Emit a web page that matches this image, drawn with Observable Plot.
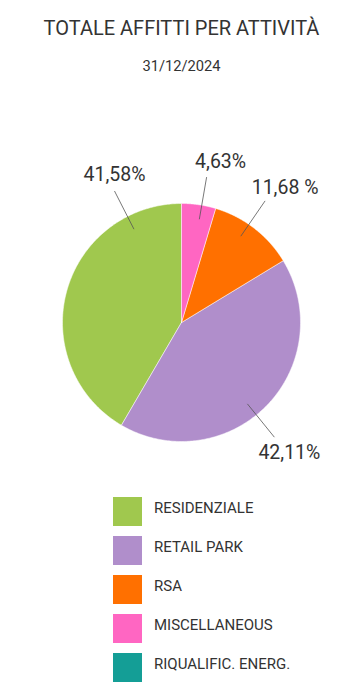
<!DOCTYPE html>
<html>
<head>
<meta charset="utf-8">
<script src="https://cdn.jsdelivr.net/npm/d3@7"></script>
<script src="https://cdn.jsdelivr.net/npm/@observablehq/plot@0.6"></script>
<style>
  html, body { margin: 0; padding: 0; background: #fff; }
  body { width: 363px; height: 692px; position: relative; overflow: hidden; font-family: Roboto, "Noto Sans", sans-serif; color: #333; }
  #title { position: absolute; left: 0; width: 363px; top: 18.4px; text-align: center; font-size: 20px; line-height: 20px; white-space: nowrap; }
  #subtitle { position: absolute; left: 0; width: 363px; top: 59px; text-align: center; font-size: 14.7px; line-height: 14.7px; }
  #chart { position: absolute; left: 0; top: 100px; }
  .lg-row { position: absolute; left: 113px; height: 29px; display: flex; align-items: center; }
  .lg-sw { width: 29px; height: 29px; }
  .lg-tx { margin-left: 12px; font-size: 15px; line-height: 15px; margin-top: -6px; white-space: nowrap; }
</style>
</head>
<body>
<div id="title"></div>
<div id="subtitle"></div>
<div id="chart"></div>
<div id="legend"></div>
<script>
// ---- data ----
const title = "TOTALE AFFITTI PER ATTIVITÀ";
const subtitle = "31/12/2024";
const categories = ["RESIDENZIALE", "RETAIL PARK", "RSA", "MISCELLANEOUS", "RIQUALIFIC. ENERG."];
const values = [41.58, 42.11, 11.68, 4.63, 0];
const valueLabels = ["41,58%", "42,11%", "11,68 %", "4,63%", ""];
const colors = ["#a0c84e", "#b08ecb", "#ff7000", "#ff66c2", "#149e96"];

// ---- layout (style, not data) ----
const W = 363, H = 380;
const cx = 181, cy = 222, R = 119;
// leader angle (deg clockwise from top) and text offset from leader end
const leader = {
  "RESIDENZIALE": {a: -27, dx: 0, dy: -16},
  "RETAIL PARK": {a: 141, dx: 15, dy: 16},
  "RSA": {a: 34.5, dx: 20, dy: -13},
  "MISCELLANEOUS": {a: 9.8, dx: 14, dy: -15}
};
const rIn = 0.88 * R, rOut = 1.24 * R;

document.getElementById("title").textContent = title;
document.getElementById("subtitle").textContent = subtitle;

const data = categories.map((c, i) => ({cat: c, value: values[i], label: valueLabels[i], color: colors[i]}));
const arcs = d3.pie().sort(null).value(d => d.value).startAngle(0).endAngle(-2 * Math.PI)(data);

const pt = (a, r) => [cx + r * Math.sin(a), cy - r * Math.cos(a)];

const sliceMarks = arcs.filter(a => a.data.value > 0).map(a => {
  const n = 200;
  const pts = [pt(0, 0)];
  for (let k = 0; k <= n; k++) {
    const ang = a.startAngle + (a.endAngle - a.startAngle) * k / n;
    pts.push(pt(ang, R));
  }
  pts.push(pt(0, 0));
  return Plot.line(pts, {x: d => d[0], y: d => d[1], fill: a.data.color, stroke: "#fff", strokeWidth: 0.5, curve: "linear"});
});

const leaderLines = [];
const texts = [];
data.filter(d => d.value > 0).forEach(d => {
  const L = leader[d.cat];
  const a = L.a * Math.PI / 180;
  const p1 = pt(a, rIn), p2 = pt(a, rOut);
  leaderLines.push({x1: p1[0], y1: p1[1], x2: p2[0], y2: p2[1]});
  texts.push({x: p2[0] + L.dx, y: p2[1] + L.dy, text: d.label});
});

const plot = Plot.plot({
  width: W, height: H, margin: 0,
  x: {domain: [0, W], range: [0, W], axis: null},
  y: {domain: [0, H], range: [0, H], axis: null},
  marks: [
    ...sliceMarks,
    Plot.link(leaderLines, {x1: "x1", y1: "y1", x2: "x2", y2: "y2", stroke: "#555", strokeWidth: 0.8}),
    Plot.text(texts, {x: "x", y: "y", text: "text", fontSize: 19.5, fill: "#333", fontFamily: "Roboto", textAnchor: "middle", lineAnchor: "middle"})
  ]
});
document.getElementById("chart").appendChild(plot);

const legend = document.getElementById("legend");
data.forEach((d, i) => {
  const row = document.createElement("div");
  row.className = "lg-row";
  row.style.top = (497 + i * 39.1) + "px";
  const sw = document.createElement("div");
  sw.className = "lg-sw";
  sw.style.background = d.color;
  const tx = document.createElement("div");
  tx.className = "lg-tx";
  tx.textContent = d.cat;
  row.appendChild(sw); row.appendChild(tx);
  legend.appendChild(row);
});
</script>
</body>
</html>
